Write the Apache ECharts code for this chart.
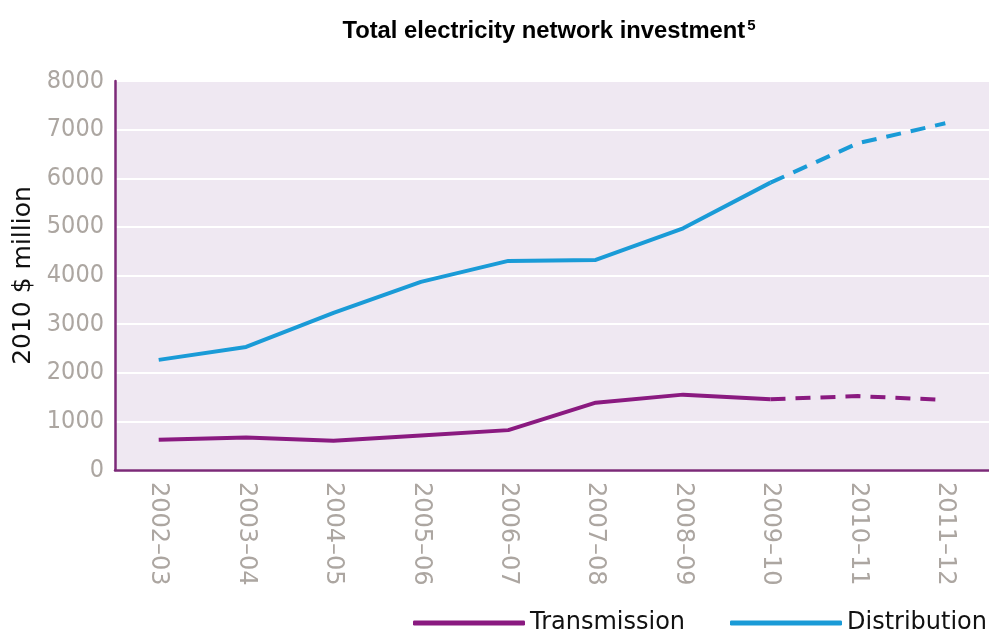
<!DOCTYPE html>
<html>
<head>
<meta charset="utf-8">
<script src="https://cdn.jsdelivr.net/npm/echarts@6/dist/echarts.min.js"></script>
<style>html,body{margin:0;padding:0;background:#fff;}#c{width:989px;height:629px;}</style>
</head>
<body>
<div id="c"></div>
<script>
const categories = ['2002–03','2003–04','2004–05','2005–06','2006–07','2007–08','2008–09','2009–10','2010–11','2011–12'];
const transmission = [620, 670, 600, 710, 820, 1385, 1550, 1455, 1520, 1440];
const distribution = [2265, 2530, 3230, 3870, 4300, 4320, 4970, 5910, 6720, 7130];
const forecastStart = 7; // index of 2009–10, after which values are dashed projections
const yTicks = [0, 1000, 2000, 3000, 4000, 5000, 6000, 7000, 8000];

const solid = arr => arr.map((v, i) => i <= forecastStart ? v : null);
const dashed = arr => arr.map((v, i) => i >= forecastStart ? v : null);

const cTrans = '#8a1a80';
const cDist = '#1a9bd7';
const legendBase = {
  top: 606, itemWidth: 112, itemHeight: 5, icon: 'roundRect',
  textStyle: { fontFamily: 'DejaVu Sans, sans-serif', fontSize: 24, color: '#111' }
};
const chart = echarts.init(document.getElementById('c'));
chart.setOption({
  animation: false,
  backgroundColor: '#ffffff',
  title: {
    text: '{t|Total electricity network investment}{s|5}',
    left: 544, top: 13, textAlign: 'center',
    textStyle: {
      rich: {
        t: { fontFamily: 'Liberation Sans, Arial, sans-serif', fontWeight: 'bold', fontSize: 23.8, color: '#000' },
        s: { fontFamily: 'Liberation Sans, Arial, sans-serif', fontWeight: 'bold', fontSize: 15, color: '#000', verticalAlign: 'top', padding: [0,0,12,2] }
      }
    }
  },
  legend: [
    Object.assign({ data: ['Transmission'], left: 408 }, legendBase),
    Object.assign({ data: ['Distribution'], left: 725 }, legendBase)
  ],
  grid: { left: 115, right: 0, top: 81, bottom: 159, backgroundColor: '#efe8f2', show: true, borderWidth: 0 },
  xAxis: {
    type: 'category', data: categories, boundaryGap: true,
    axisLine: { lineStyle: { color: '#7c2a78', width: 2.5 } },
    axisTick: { show: false },
    axisLabel: { rotate: -90, fontFamily: 'DejaVu Sans, sans-serif', fontSize: 24, color: '#aca6a1', margin: 12 }
  },
  yAxis: {
    type: 'value', min: yTicks[0], max: yTicks[yTicks.length-1], interval: 1000,
    name: '2010 $ million', nameLocation: 'middle', nameGap: 78, nameRotate: 90,
    nameTextStyle: { fontFamily: 'DejaVu Sans, sans-serif', fontSize: 25, color: '#111' },
    axisLine: { show: true, lineStyle: { color: '#7c2a78', width: 2.5 } },
    axisTick: { show: false },
    splitLine: { show: true, lineStyle: { color: '#ffffff', width: 2 } },
    axisLabel: { fontFamily: 'DejaVu Sans Condensed, sans-serif', fontSize: 25, color: '#aca6a1', margin: 11, formatter: v => String(v) }
  },
  series: [
    { name: 'Transmission', type: 'line', data: solid(transmission), symbol: 'none', lineStyle: { color: cTrans, width: 4 }, itemStyle: { color: cTrans }, z: 3 },
    { name: 'TransmissionF', type: 'line', data: dashed(transmission), symbol: 'none', lineStyle: { color: cTrans, width: 4, type: [15, 10] }, itemStyle: { color: cTrans }, z: 3 },
    { name: 'Distribution', type: 'line', data: solid(distribution), symbol: 'none', lineStyle: { color: cDist, width: 4 }, itemStyle: { color: cDist }, z: 3 },
    { name: 'DistributionF', type: 'line', data: dashed(distribution), symbol: 'none', lineStyle: { color: cDist, width: 4, type: [15, 10] }, itemStyle: { color: cDist }, z: 3 }
  ]
});
</script>
</body>
</html>
